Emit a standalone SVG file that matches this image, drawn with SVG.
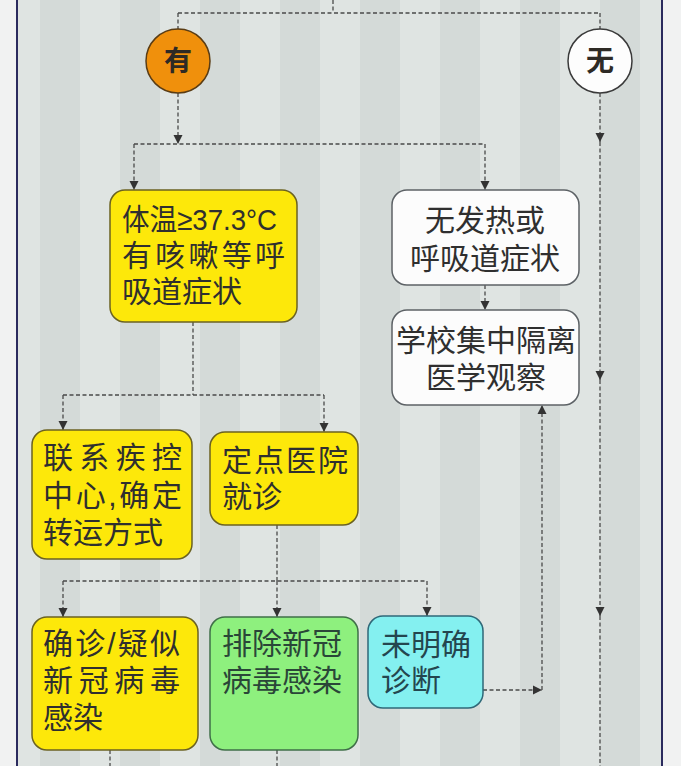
<svg xmlns="http://www.w3.org/2000/svg" width="681" height="766" viewBox="0 0 681 766">
<style>
.bg-l{fill:#dfe4e2}
.bg-d{fill:#d4dad8}
.edge{fill:none;stroke:#4a4a4a;stroke-width:1.3;stroke-dasharray:4 2.5}
.t{font-family:"Liberation Sans","Noto Sans CJK SC",sans-serif;font-size:30px;fill:#2f2f2f}
.tb{font-family:"Liberation Sans","Noto Sans CJK SC",sans-serif;font-size:28px;font-weight:bold;fill:#2e2a25;text-anchor:middle}
.yel{fill:#fde80a;stroke:#6b6222;stroke-width:1.5}
.wht{fill:#fcfcfc;stroke:#5d6266;stroke-width:1.5}
.grn{fill:#8ef07e;stroke:#3f6f48;stroke-width:1.5}
.cyn{fill:#84f0f0;stroke:#2f6878;stroke-width:1.5}
</style>
<defs>
<marker id="arr" viewBox="0 0 10 10" refX="10" refY="5" markerWidth="9" markerHeight="11" markerUnits="userSpaceOnUse" orient="auto">
<path d="M0,0 L10,5 L0,10 z" fill="#333"/>
</marker>
</defs>
<g id="background">
<rect x="0" y="0" width="681" height="766" fill="#f1f2f2"/>
<rect x="18" y="0" width="644" height="766" class="bg-l"/>
<rect x="40" y="0" width="40" height="766" class="bg-d"/>
<rect x="120" y="0" width="40" height="766" class="bg-d"/>
<rect x="200" y="0" width="40" height="766" class="bg-d"/>
<rect x="280" y="0" width="40" height="766" class="bg-d"/>
<rect x="360" y="0" width="40" height="766" class="bg-d"/>
<rect x="440" y="0" width="40" height="766" class="bg-d"/>
<rect x="520" y="0" width="40" height="766" class="bg-d"/>
<rect x="600" y="0" width="40" height="766" class="bg-d"/>
<line x1="17" y1="0" x2="17" y2="766" stroke="#2b2b5e" stroke-width="2"/>
<line x1="662" y1="0" x2="662" y2="766" stroke="#2b2b5e" stroke-width="2"/>
</g>
<g id="connectors">
<path class="edge" d="M333,0 V13"/>
<path class="edge" d="M178,13 H600"/>
<path class="edge" d="M178,13 V29"/>
<path class="edge" d="M600,13 V29"/>
<path class="edge" d="M178,93 V144" marker-end="url(#arr)"/>
<path class="edge" d="M134,144 H485"/>
<path class="edge" d="M134,144 V190" marker-end="url(#arr)"/>
<path class="edge" d="M485,144 V190" marker-end="url(#arr)"/>
<path class="edge" d="M600,93 V142" marker-end="url(#arr)"/>
<path class="edge" d="M600,142 V380" marker-end="url(#arr)"/>
<path class="edge" d="M600,380 V616" marker-end="url(#arr)"/>
<path class="edge" d="M600,616 V766"/>
<path class="edge" d="M485,285 V310" marker-end="url(#arr)"/>
<path class="edge" d="M193,322 V395"/>
<path class="edge" d="M63,395 H324"/>
<path class="edge" d="M63,395 V430" marker-end="url(#arr)"/>
<path class="edge" d="M324,395 V432" marker-end="url(#arr)"/>
<path class="edge" d="M277,525 V581"/>
<path class="edge" d="M63,581 H427"/>
<path class="edge" d="M63,581 V617" marker-end="url(#arr)"/>
<path class="edge" d="M277,581 V617" marker-end="url(#arr)"/>
<path class="edge" d="M427,581 V616" marker-end="url(#arr)"/>
<path class="edge" d="M483,690 H542" marker-end="url(#arr)"/>
<path class="edge" d="M542,690 V405" marker-end="url(#arr)"/>
<path class="edge" d="M110,750 V766"/>
<path class="edge" d="M277,750 V766"/>
</g>
<g id="node-you">
<circle cx="178" cy="61" r="32" fill="#f0900c" stroke="#5a3c14" stroke-width="1.5"/>
<text class="tb" x="178" y="71">有</text>
</g>
<g id="node-wu">
<circle cx="600" cy="61" r="32" fill="#fdfdfd" stroke="#3a3a3a" stroke-width="1.5"/>
<text class="tb" x="600" y="71">无</text>
</g>
<g id="node-fever">
<rect class="yel" x="110" y="190" width="187" height="132" rx="15"/>
<text class="t" x="122" y="230" textLength="155" lengthAdjust="spacingAndGlyphs">体温≥37.3°C</text>
<text class="t" x="122" y="266" textLength="163" lengthAdjust="spacing">有咳嗽等呼</text>
<text class="t" x="122" y="302">吸道症状</text>
</g>
<g id="node-nofever">
<rect class="wht" x="392" y="190" width="187" height="95" rx="15"/>
<text class="t" x="485" y="231" text-anchor="middle">无发热或</text>
<text class="t" x="485" y="269" text-anchor="middle">呼吸道症状</text>
</g>
<g id="node-quarantine">
<rect class="wht" x="392" y="310" width="187" height="95" rx="15"/>
<text class="t" x="486" y="351" text-anchor="middle">学校集中隔离</text>
<text class="t" x="486" y="388" text-anchor="middle">医学观察</text>
</g>
<g id="node-cdc">
<rect class="yel" x="32" y="430" width="160" height="129" rx="15"/>
<text class="t" x="43" y="468" textLength="139" lengthAdjust="spacing">联系疾控</text>
<text class="t" x="43" y="506" textLength="139" lengthAdjust="spacing">中心,确定</text>
<text class="t" x="43" y="543">转运方式</text>
</g>
<g id="node-hospital">
<rect class="yel" x="210" y="432" width="148" height="93" rx="15"/>
<text class="t" x="222" y="471" textLength="126" lengthAdjust="spacing">定点医院</text>
<text class="t" x="222" y="507">就诊</text>
</g>
<g id="node-confirmed">
<rect class="yel" x="32" y="617" width="166" height="133" rx="15"/>
<text class="t" x="43" y="654" textLength="137" lengthAdjust="spacing">确诊/疑似</text>
<text class="t" x="43" y="691" textLength="137" lengthAdjust="spacing">新冠病毒</text>
<text class="t" x="43" y="728">感染</text>
</g>
<g id="node-excluded">
<rect class="grn" x="210" y="617" width="148" height="133" rx="15"/>
<text class="t" x="222" y="654" style="fill:#2a4638">排除新冠</text>
<text class="t" x="222" y="691" style="fill:#2a4638">病毒感染</text>
</g>
<g id="node-undiagnosed">
<rect class="cyn" x="368" y="616" width="115" height="92" rx="15"/>
<text class="t" x="381" y="655" style="fill:#24464f">未明确</text>
<text class="t" x="381" y="691" style="fill:#24464f">诊断</text>
</g>
</svg>
